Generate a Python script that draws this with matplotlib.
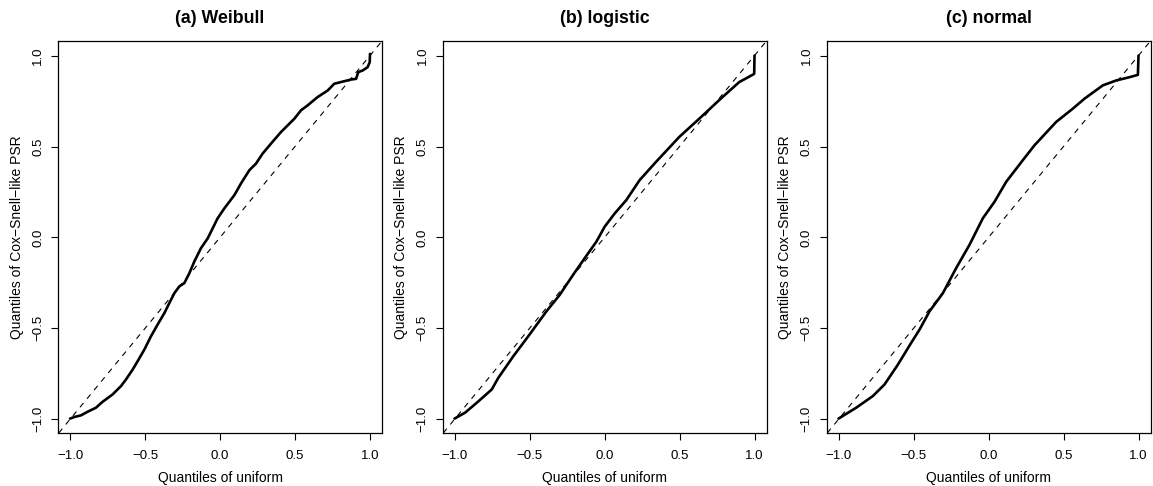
import matplotlib
matplotlib.use("Agg")
import matplotlib.pyplot as plt

plt.rcParams['font.family'] = ['Liberation Sans', 'DejaVu Sans']

titles = ["(a) Weibull", "(b) logistic", "(c) normal"]
x_label = "Quantiles of uniform"
y_label = "Quantiles of Cox\u2212Snell\u2212like PSR"
tick_vals = [-1.0, -0.5, 0.0, 0.5, 1.0]
tick_labels = ["\u22121.0", "\u22120.5", "0.0", "0.5", "1.0"]

# Panel (a) Weibull
weibull_x = [-1.000, -0.971, -0.927, -0.882, -0.827, -0.782, -0.716, -0.660, -0.627, -0.582,
             -0.549, -0.504, -0.460, -0.416, -0.371, -0.338, -0.304, -0.271, -0.238, -0.204,
             -0.171, -0.127, -0.082, -0.049, -0.016, 0.029, 0.096, 0.140, 0.196, 0.240,
             0.284, 0.340, 0.407, 0.451, 0.496, 0.540, 0.584, 0.651, 0.718, 0.762,
             0.829, 0.873, 0.907, 0.922, 0.951, 0.984, 0.998, 1.000]
weibull_y = [-0.996, -0.987, -0.978, -0.958, -0.936, -0.903, -0.863, -0.817, -0.781, -0.726,
             -0.680, -0.616, -0.543, -0.479, -0.416, -0.361, -0.306, -0.269, -0.251, -0.196,
             -0.132, -0.059, -0.005, 0.050, 0.105, 0.160, 0.233, 0.297, 0.370, 0.406,
             0.461, 0.516, 0.580, 0.616, 0.653, 0.699, 0.726, 0.772, 0.808, 0.845,
             0.859, 0.868, 0.872, 0.909, 0.918, 0.936, 0.963, 1.009]

# Panel (b) logistic
logistic_x = [-1.0, -0.929, -0.852, -0.752, -0.708, -0.608, -0.508, -0.387, -0.298, -0.209,
              -0.132, -0.054, 0.001, 0.068, 0.145, 0.234, 0.344, 0.499, 0.632, 0.787,
              0.898, 0.987, 0.998, 1.0]
logistic_y = [-0.996, -0.963, -0.909, -0.836, -0.772, -0.653, -0.543, -0.406, -0.315, -0.205,
              -0.114, -0.023, 0.059, 0.132, 0.205, 0.315, 0.416, 0.553, 0.653, 0.772,
              0.854, 0.894, 0.900, 1.0]

# Panel (c) normal
normal_x = [-1.0, -0.882, -0.771, -0.693, -0.604, -0.516, -0.46, -0.393, -0.304, -0.216,
            -0.127, -0.038, 0.040, 0.118, 0.229, 0.307, 0.451, 0.562, 0.640, 0.762,
            0.851, 0.940, 0.996, 1.0]
normal_y = [-0.996, -0.936, -0.872, -0.808, -0.699, -0.580, -0.507, -0.406, -0.306, -0.169,
            -0.041, 0.105, 0.196, 0.306, 0.425, 0.507, 0.635, 0.708, 0.763, 0.836,
            0.863, 0.881, 0.894, 1.0]

series = [(weibull_x, weibull_y), (logistic_x, logistic_y), (normal_x, normal_y)]

W, H = 1153, 486
fig = plt.figure(figsize=(W / 100, H / 100), dpi=100)

lefts = [58, 442.5, 826.5]
ax_w = 324
top, bottom = 41, 433

for i, (title, (xs, ys)) in enumerate(zip(titles, series)):
    ax = fig.add_axes([lefts[i] / W, (H - bottom) / H, ax_w / W, (bottom - top) / H])
    ax.set_xlim(-1.08, 1.08)
    ax.set_ylim(-1.075, 1.08)
    ax.axline((0, 0), slope=1, color='black', lw=0.8, linestyle=(0, (5, 5)))
    ax.plot(xs, ys, color='black', lw=1.9, solid_joinstyle='round', solid_capstyle='round')
    ax.set_xticks(tick_vals)
    ax.set_xticklabels(tick_labels)
    ax.set_yticks(tick_vals)
    ax.set_yticklabels(tick_labels, rotation=90, va='center')
    ax.tick_params(direction='out', length=5, width=0.8, labelsize=9.5, color='black')
    ax.tick_params(axis='x', pad=7)
    ax.tick_params(axis='y', pad=5)
    for sp in ax.spines.values():
        sp.set_linewidth(0.9)
    ax.set_xlabel(x_label, fontsize=10, labelpad=7)
    ax.set_ylabel(y_label, fontsize=10, labelpad=6)
    ax.set_title(title, fontsize=12.8, fontweight='bold', pad=13)

fig.savefig("out.png", dpi=100)
